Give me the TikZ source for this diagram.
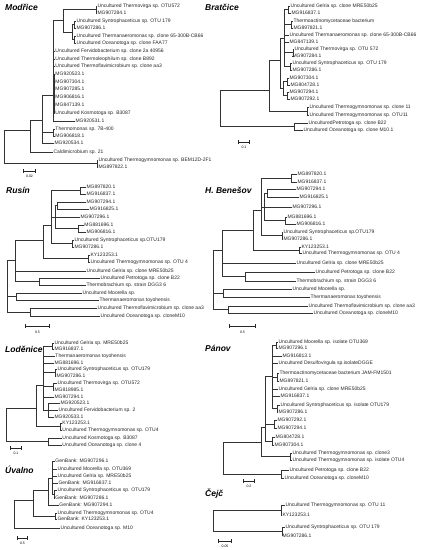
\documentclass[tikz,border=0pt]{standalone}
\usepackage{fontspec}
\setmainfont{Liberation Sans}
\usetikzlibrary{positioning, arrows.meta}

\begin{document}
\begin{tikzpicture}[x=1pt, y=-1pt, line cap=rect,
    leaf/.style = {anchor=west, inner sep=0.3pt, text=black!85, font=\fontsize{5}{6}\selectfont},
    title/.style = {anchor=west, inner sep=0pt, font=\fontsize{8.5}{10}\selectfont\bfseries\itshape},
    edge/.style = {draw=black!80, line width=0.45pt},
    bar/.style = {draw=black!85, line width=1pt, {Bar[width=3.5pt,line width=0.6pt]}-{Bar[width=3.5pt,line width=0.6pt]}},
    barlabel/.style = {inner sep=0pt, font=\fontsize{3.5}{4}\selectfont}]
\useasboundingbox (0,0) rectangle (423,550);

% ---------- Modrice
\node[title] (tm) at (5,7) {Modřice};
\node[leaf] (m1) at (97,6) {Uncultured Thermovirga sp. OTU572};
\node[leaf] (m2) at (97,13) {MG907284.1};
\node[leaf] (m3) at (76,21) {Uncultured Syntrophaceticus sp. OTU 179};
\node[leaf] (m4) at (76,28) {MG907286.1};
\node[leaf] (m5) at (76,36) {Uncultured Thermanaeromonas sp. clone 65-300B-CB66};
\node[leaf] (m6) at (76,43) {Uncultured Oceanotoga sp. clone FAA77};
\node[leaf] (m7) at (55,51) {Uncultured Fervidobacterium sp. clone 2a 40956};
\node[leaf] (m8) at (55,59) {Uncultured Thermoleophilum sp. clone B892};
\node[leaf] (m9) at (55,66) {Uncultured Thermoflavimicrobium sp. clone aa3};
\node[leaf] (m10) at (55,74) {MG920523.1};
\node[leaf] (m11) at (55,82) {MG907304.1};
\node[leaf] (m12) at (55,89) {MG907285.1};
\node[leaf] (m13) at (55,97) {MG906816.1};
\node[leaf] (m14) at (55,105) {MG847139.1};
\node[leaf] (m15) at (55,113) {Uncultured Kosmotoga sp. B3087};
\node[leaf] (m16) at (75,121) {MG920531.1};
\node[leaf] (m17) at (55,129) {Thermomonas sp. 7B-400};
\node[leaf] (m18) at (55,136) {MG906818.1};
\node[leaf] (m19) at (54,143) {MG920534.1};
\node[leaf] (m20) at (53,152) {Caldimicrobium sp. 21};
\node[leaf] (m21) at (98,160) {Uncultured Thermogymnomonas sp. BEM12D-2F1};
\node[leaf] (m22) at (98,167) {MG897822.1};
\coordinate (ma) at (96,9.5);
\coordinate (mb) at (74,24.5);
\coordinate (mc) at (74,39.5);
\coordinate (md) at (72,32);
\coordinate (me) at (63,20);
\coordinate (mg) at (54.3,92);
\coordinate (mf) at (53,95);
\coordinate (mh) at (53,132.5);
\coordinate (mi) at (42,120);
\coordinate (mj) at (30,130);
\coordinate (mk) at (97,163.5);
\coordinate (mr) at (4,145);
\foreach \a/\b in {ma/m1, ma/m2, mb/m3, mb/m4, mc/m5, mc/m6, md/mb, md/mc, me/ma, me/md,
    mg/m10, mg/m11, mg/m12, mg/m13, mg/m14, mg/m15,
    mf/me, mf/m7, mf/m8, mf/m9, mf/mg, mf/m16, mh/m17, mh/m18,
    mi/mf, mi/mh, mi/m19, mj/mi, mj/m20, mk/m21, mk/m22, mr/mj, mr/mk}
  \draw[edge] (\a) |- (\b);
\coordinate (ms1) at (23,171);
\coordinate (ms2) at (36,171);
\draw[bar] (ms1) -- (ms2);
\node[barlabel] (msl) at (29.5,176) {0.02};

% ---------- Bratcice
\node[title] (tb) at (205,7) {Bratčice};
\node[leaf] (b1) at (290,6) {Uncultured Gelria sp. clone MRE50b25};
\node[leaf] (b2) at (291,13) {MG916837.1};
\node[leaf] (b3) at (293,21) {Thermoactinomycetaceae bacterium};
\node[leaf] (b4) at (293,28) {MG897821.1};
\node[leaf] (b5) at (289,35) {Uncultured Thermanaeromonas sp. clone 65-300B-CB66};
\node[leaf] (b6) at (289,42) {MG847139.1};
\node[leaf] (b7) at (294,49) {Uncultured Thermovirga sp. OTU 572};
\node[leaf] (b8) at (292,56) {MG907284.1};
\node[leaf] (b9) at (292,63) {Uncultured Syntrophaceticus sp. OTU 179};
\node[leaf] (b10) at (292,70) {MG907286.1};
\node[leaf] (b11) at (289,78) {MG907304.1};
\node[leaf] (b12) at (290,85) {MG804728.1};
\node[leaf] (b13) at (289,92) {MG907294.1};
\node[leaf] (b14) at (290,99) {MG907292.1};
\node[leaf] (b15) at (309,107) {Uncultured Thermogymnomonas sp. clone 11};
\node[leaf] (b16) at (309,115) {Uncultured Thermogymnomonas sp. OTU11};
\node[leaf] (b17) at (308,123) {UnculturedPetrotoga sp. clone B22};
\node[leaf] (b18) at (303,130) {Uncultured Oceanotoga sp. clone M10.1};
\coordinate (ba) at (288,9.5);
\coordinate (bb) at (291,24.5);
\coordinate (bc) at (293,52.5);
\coordinate (bd) at (290,66.5);
\coordinate (be) at (284,38);
\coordinate (bf) at (287,81.5);
\coordinate (bg) at (287,95.5);
\coordinate (bh) at (283,88);
\coordinate (bi) at (280,60);
\coordinate (bj) at (307,111);
\coordinate (bk) at (269,90);
\coordinate (bl) at (294,126.5);
\coordinate (br) at (220,105);
\foreach \a/\b in {ba/b1, ba/b2, bb/b3, bb/b4, bc/b7, bc/b8, bd/b9, bd/b10,
    be/ba, be/bb, be/b5, be/b6, be/bc, be/bd, bf/b11, bf/b12, bg/b13, bg/b14,
    bh/bf, bh/bg, bi/be, bi/bh, bj/b15, bj/b16, bk/bi, bk/bj, bl/b17, bl/b18, br/bk, br/bl}
  \draw[edge] (\a) |- (\b);
\coordinate (bs1) at (238,142);
\coordinate (bs2) at (250,142);
\draw[bar] (bs1) -- (bs2);
\node[barlabel] (bsl) at (244,147) {0.1};

% ---------- Rusin
\node[title] (tr) at (6,190) {Rusín};
\node[leaf] (r1) at (86,187) {MG897820.1};
\node[leaf] (r2) at (86,194) {MG916837.1};
\node[leaf] (r3) at (86,202) {MG907294.1};
\node[leaf] (r4) at (89,209) {MG916825.1};
\node[leaf] (r5) at (80,217) {MG907296.1};
\node[leaf] (r6) at (84,225) {MG881696.1};
\node[leaf] (r7) at (86,232) {MG906816.1};
\node[leaf] (r8) at (74,240) {Uncultured Syntrophaceticus sp.OTU179};
\node[leaf] (r9) at (74,247) {MG907286.1};
\node[leaf] (r10) at (90,255) {KY123253.1};
\node[leaf] (r11) at (90,262) {Uncultured Thermogymnomonas sp. OTU 4};
\node[leaf] (r12) at (86,271) {Uncultured Gelria sp. clone MRE50b25};
\node[leaf] (r13) at (100,278) {Uncultured Petrotoga sp. clone B22};
\node[leaf] (r14) at (86,285) {Thermobrachium sp. strain DGG3 6};
\node[leaf] (r15) at (82,293) {Uncultured Moorella sp.};
\node[leaf] (r16) at (99,300) {Thermanaeromonas toyohensis};
\node[leaf] (r17) at (97,308) {Uncultured Thermoflavimicrobium sp. clone aa3};
\node[leaf] (r18) at (100,316) {Uncultured Oceanotoga sp. cloneM10};
\coordinate (ra) at (80,190.5);
\coordinate (rb) at (57,205.5);
\coordinate (rc) at (78,228.5);
\coordinate (rd) at (55,217);
\coordinate (rf) at (72,243.5);
\coordinate (re) at (51,225);
\coordinate (rh) at (88,258.5);
\coordinate (rg) at (43,240);
\coordinate (ri) at (39,281.5);
\coordinate (rj) at (15,260);
\coordinate (rk) at (16,296.5);
\coordinate (rl) at (30,312);
\coordinate (rr) at (7,285);
\foreach \a/\b in {ra/r1, ra/r2, rb/r3, rb/r4, rc/r6, rc/r7, rd/rb, rd/r5, rd/rc,
    rf/r8, rf/r9, re/ra, re/rd, re/rf, rh/r10, rh/r11, rg/re, rg/rh,
    ri/r13, ri/r14, rj/rg, rj/r12, rj/ri, rk/r15, rk/r16, rl/r17, rl/r18,
    rr/rj, rr/rk, rr/rl}
  \draw[edge] (\a) |- (\b);
\coordinate (rs1) at (25,326);
\coordinate (rs2) at (50,326);
\draw[bar] (rs1) -- (rs2);
\node[barlabel] (rsl) at (37.5,332) {0.5};

% ---------- H. Benesov
\node[title] (th) at (205,190) {H. Benešov};
\node[leaf] (h1) at (297,174) {MG897820.1};
\node[leaf] (h2) at (297,182) {MG916837.1};
\node[leaf] (h3) at (296,189) {MG907294.1};
\node[leaf] (h4) at (299,197) {MG916825.1};
\node[leaf] (h5) at (292,207) {MG907296.1};
\node[leaf] (h6) at (287,217) {MG881696.1};
\node[leaf] (h7) at (296,224) {MG906816.1};
\node[leaf] (h8) at (283,232) {Uncultured Syntrophaceticus sp.OTU179};
\node[leaf] (h9) at (283,239) {MG907286.1};
\node[leaf] (h10) at (301,247) {KY123253.1};
\node[leaf] (h11) at (302,253) {Uncultured Thermogymnomonas sp. OTU 4};
\node[leaf] (h12) at (296,263) {Uncultured Gelria sp. clone MRE50b25};
\node[leaf] (h13) at (315,272) {Uncultured Petrotoga sp. clone B22};
\node[leaf] (h14) at (296,281) {Thermobrachium sp. strain DGG3 6};
\node[leaf] (h15) at (292,289) {Uncultured Moorella sp.};
\node[leaf] (h16) at (310,297) {Thermanaeromonas toyohensis};
\node[leaf] (h17) at (308,306) {Uncultured Thermoflavimicrobium sp. clone aa3};
\node[leaf] (h18) at (313,313) {Uncultured Oceanotoga sp. cloneM10};
\coordinate (ha) at (291,178);
\coordinate (hb) at (267,193);
\coordinate (hc) at (285,220.5);
\coordinate (hd) at (264,207);
\coordinate (hf) at (282,235.5);
\coordinate (he) at (261,210);
\coordinate (hh) at (299,250);
\coordinate (hg) at (253,230);
\coordinate (hi) at (245,276.5);
\coordinate (hj) at (222,250);
\coordinate (hk) at (223,293);
\coordinate (hl) at (228,309.5);
\coordinate (hr) at (213,275);
\foreach \a/\b in {ha/h1, ha/h2, hb/h3, hb/h4, hc/h6, hc/h7, hd/hb, hd/h5, hd/hc,
    hf/h8, hf/h9, he/ha, he/hd, he/hf, hh/h10, hh/h11, hg/he, hg/hh,
    hi/h13, hi/h14, hj/hg, hj/h12, hj/hi, hk/h15, hk/h16, hl/h17, hl/h18,
    hr/hj, hr/hk, hr/hl}
  \draw[edge] (\a) |- (\b);
\coordinate (hs1) at (229,326);
\coordinate (hs2) at (256,326);
\draw[bar] (hs1) -- (hs2);
\node[barlabel] (hsl) at (242.5,332) {0.5};

% ---------- Lodenice
\node[title] (tl) at (5,349) {Loděnice};
\node[leaf] (l1) at (54,343) {Uncultured Gelria sp. MRE50b25};
\node[leaf] (l2) at (54,349) {MG916837.1};
\node[leaf] (l3) at (55,356) {Thermanaeromonas toyohensis};
\node[leaf] (l4) at (54,363) {MG881696.1};
\node[leaf] (l5) at (57,369) {Uncultured Syntrophaceticus sp. OTU179};
\node[leaf] (l6) at (56,376) {MG907286.1};
\node[leaf] (l7) at (57,383) {Uncultured Thermovirga sp. OTU572};
\node[leaf] (l8) at (54,390) {MG818985.1};
\node[leaf] (l9) at (54,397) {MG907294.1};
\node[leaf] (l10) at (60,403) {MG920523.1};
\node[leaf] (l11) at (58,410) {Uncultured Fervidobacterium sp. 2};
\node[leaf] (l12) at (54,417) {MG920533.1};
\node[leaf] (l13) at (62,423) {KY123253.1};
\node[leaf] (l14) at (62,430) {Uncultured Thermogymnomonas sp. OTU4};
\node[leaf] (l15) at (62,438) {Uncultured Kosmotoga sp. B3087};
\node[leaf] (l16) at (62,445) {Uncultured Oceanotoga sp. clone 4};
\coordinate (la) at (52,346);
\coordinate (lb) at (55,372.5);
\coordinate (lc) at (53,386.5);
\coordinate (ld) at (48,410);
\coordinate (le) at (43,385);
\coordinate (lk) at (60,426.5);
\coordinate (lf) at (36,408);
\coordinate (lm) at (48,441.5);
\coordinate (lr) at (6,425);
\foreach \a/\b in {la/l1, la/l2, lb/l5, lb/l6, lc/l7, lc/l8, ld/l10, ld/l11, ld/l12,
    le/la, le/l3, le/l4, le/lb, le/lc, le/l9, le/ld, lk/l13, lk/l14,
    lf/le, lf/lk, lm/l15, lm/l16, lr/lf, lr/lm}
  \draw[edge] (\a) |- (\b);
\coordinate (ls1) at (10,448);
\coordinate (ls2) at (22,448);
\draw[bar] (ls1) -- (ls2);
\node[barlabel] (lsl) at (16,453) {0.1};

% ---------- Panov
\node[title] (tp) at (205,348) {Pánov};
\node[leaf] (p1) at (278,342) {Uncultured Moorella sp. isolate OTU369};
\node[leaf] (p2) at (278,348) {MG907296.1};
\node[leaf] (p3) at (282,356) {MG916813.1};
\node[leaf] (p4) at (278,363) {Uncultured Desulfovirgula sp.isolateDGGE};
\node[leaf] (p5) at (279,373) {Thermoactinomycetaceae bacterium JAM-FM1501};
\node[leaf] (p6) at (279,381) {MG897821.1};
\node[leaf] (p7) at (278,389) {Uncultured Gelria sp. clone MRE50b25};
\node[leaf] (p8) at (280,396) {MG916837.1};
\node[leaf] (p9) at (280,405) {Uncultured Syntrophaceticus sp. isolate OTU179};
\node[leaf] (p10) at (278,412) {MG907286.1};
\node[leaf] (p11) at (277,420) {MG907292.1};
\node[leaf] (p12) at (277,428) {MG907294.1};
\node[leaf] (p13) at (275,437) {MG804728.1};
\node[leaf] (p14) at (274,445) {MG907304.1};
\node[leaf] (p15) at (292,453) {Uncultured Thermogymnomonas sp. clone3};
\node[leaf] (p16) at (292,460) {Uncultured Thermogymnomonas sp. isolate OTU4};
\node[leaf] (p17) at (289,470) {Uncultured Petrotoga sp. clone B22};
\node[leaf] (p18) at (284,478) {Uncultured Oceanotoga sp. cloneM10};
\coordinate (pa) at (276,345);
\coordinate (pb) at (277,377);
\coordinate (pc) at (277,408.5);
\coordinate (pd) at (272,376);
\coordinate (pe) at (274,424);
\coordinate (pf) at (272,441);
\coordinate (pg) at (265,427);
\coordinate (ph) at (290,456.5);
\coordinate (pi) at (261,442);
\coordinate (pj) at (281,474);
\coordinate (pr) at (223,458);
\foreach \a/\b in {pa/p1, pa/p2, pb/p5, pb/p6, pc/p9, pc/p10,
    pd/pa, pd/p3, pd/p4, pd/pb, pd/p7, pd/p8, pd/pc, pe/p11, pe/p12, pf/p13, pf/p14,
    pg/pd, pg/pe, pg/pf, ph/p15, ph/p16, pi/pg, pi/ph, pj/p17, pj/p18, pr/pi, pr/pj}
  \draw[edge] (\a) |- (\b);
\coordinate (ps1) at (243,481);
\coordinate (ps2) at (255,481);
\draw[bar] (ps1) -- (ps2);
\node[barlabel] (psl) at (249,486) {0.2};

% ---------- Uvalno
\node[title] (tu) at (5,470) {Úvalno};
\node[leaf] (u1) at (55,461) {GenBank: MG907296.1};
\node[leaf] (u2) at (57,469) {Uncultured Moorella sp. OTU369};
\node[leaf] (u3) at (57,476) {Uncultured Gelria sp. MRE50b25};
\node[leaf] (u4) at (58,483) {GenBank: MG916837.1};
\node[leaf] (u5) at (57,490) {Uncultured Syntrophaceticus sp. OTU179};
\node[leaf] (u6) at (55,498) {GenBank: MG907286.1};
\node[leaf] (u7) at (59,505) {GenBank: MG907294.1};
\node[leaf] (u8) at (57,513) {Uncultured Thermogymnomonas sp. OTU4};
\node[leaf] (u9) at (57,519) {GenBank: KY123253.1};
\node[leaf] (u10) at (60,528) {Uncultured Oceanotoga sp. M10};
\coordinate (ua) at (54,494);
\coordinate (uc) at (52,478);
\coordinate (ub) at (48,490);
\coordinate (ut) at (55,516);
\coordinate (ud) at (33,500);
\coordinate (ur) at (14,512);
\foreach \a/\b in {ua/u5, ua/u6, uc/u1, uc/u2, uc/u3, uc/u4, uc/ua, ub/uc, ub/u7,
    ut/u8, ut/u9, ud/ub, ud/ut, ur/ud, ur/u10}
  \draw[edge] (\a) |- (\b);
\coordinate (us1) at (17,538);
\coordinate (us2) at (28,538);
\draw[bar] (us1) -- (us2);
\node[barlabel] (usl) at (22.5,543) {0.5};

% ---------- Cejc
\node[title] (tc) at (205,494) {Čejč};
\node[leaf] (c1) at (285,505) {Uncultured Thermogymnomonas sp. OTU 11};
\node[leaf] (c2) at (282,515) {KY123253.1};
\node[leaf] (c3) at (285,527) {Uncultured Syntrophaceticus sp. OTU 179};
\node[leaf] (c4) at (282,536) {MG907286.1};
\coordinate (ca) at (281,510);
\coordinate (cb) at (282,531.5);
\coordinate (cr) at (213,520);
\foreach \a/\b in {ca/c1, ca/c2, cb/c3, cb/c4, cr/ca, cr/cb}
  \draw[edge] (\a) |- (\b);
\coordinate (cs1) at (218,541);
\coordinate (cs2) at (232,541);
\draw[bar] (cs1) -- (cs2);
\node[barlabel] (csl) at (225,546) {0.05};
\end{tikzpicture}
\end{document}
